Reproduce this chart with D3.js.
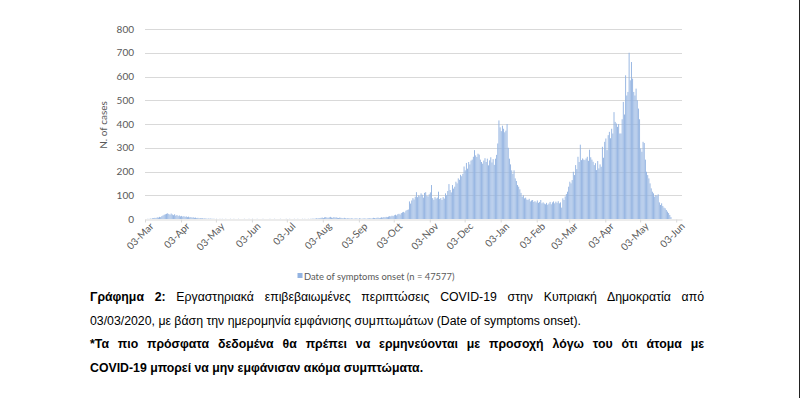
<!DOCTYPE html>
<html>
<head>
<meta charset="utf-8">
<script src="https://cdn.jsdelivr.net/npm/d3@7"></script>
<style>
  html, body { margin: 0; padding: 0; background: #fff; }
  svg { display: block; }
</style>
</head>
<body>
<script>
// Daily cases by date of symptom onset, starting 03-Mar-2020
const mar20 = [0,0,1,0,2,1,3,4, 5,4,7,6,9,8,12,15,18,20, 22,24,21,18,23,19,16,20,14,17,12];
const apr20 = [15,11,13,10,12,9,11,8,10,7, 8,6,7,5,6,4,5,3,4,3, 3,2,3,2,1,2,1,2,1,1];
const may20 = [1,0,1,0,0,1,0,1,0,0, 1,0,0,0,1,0,0,1,0,0, 0,1,0,0,0,0,1,0,0,0,1];
const jun20 = [0,0,1,0,0,0,1,0,0,0, 0,1,0,0,0,0,0,1,0,0, 0,1,0,0,0,0,1,0,0,0];
const jul20 = [0,1,0,0,1,0,0,0,1,0, 0,1,0,0,0,1,0,1,0,0, 1,0,1,1,2,1,2,3,2,3,4];
const aug20 = [5,6,4,7,8,6,5,7,9,6, 5,8,6,7,5,4,6,5,4,3, 5,3,2,4,3,2,3,2,1,2,3];
const sep20 = [2,1,3,2,1,2,3,2,1,2, 3,4,2,3,5,4,3,5,6,4, 5,7,6,8,7,9,8,10,12,11];
const oct20 = [14,12,16,18,15,20,22,19,25,28, 30,27,35,38,40,74,65,78,88,82, 94,113,92,100,96,108,102,90,110,113,98];
const nov20 = [95,104,112,143,88,81,92,86,90,115, 84,88,80,92,86,108,100,118,147,122, 112,143,128,136,157,150,171,165,186,180];
const dec20 = [190,221,205,236,212,240,230,246,250,262, 290,268,261,275,271,250,240,233,246,256, 240,254,226,247,260,238,252,228,254,270,318];
const jan21 = [415,386,370,393,380,365,372,400,300,254, 230,205,190,205,171,160,143,136,125,110, 94,100,87,90,82,80,85,74,78,80,72];
const feb21 = [75,70,78,68,72,80,66,70,65,62, 68,60,65,72,62,70,74,66,73,68, 75,66,70,48,87,80,95,105];
const mar21 = [115,136,157,150,164,199,185,227,210,262, 240,313,248,255,250,248,255,262,245,292, 260,250,241,227,235,206,244,213,230,220,304];
const apr21 = [258,325,339,290,353,367,340,380,360,450, 409,402,388,400,360,360,420,493,440,605, 520,535,700,584,661,591,535,520,549,500];
const may21 = [465,420,297,283,325,320,250,199,185,171, 150,129,115,108,94,101,98,104,70,59, 66,55,48,45,38,31,25,17,8];

const yTicks = [0, 100, 200, 300, 400, 500, 600, 700, 800];
const legendLabel = 'Date of symptoms onset (n = 47577)';
const captionLines = [
  [{ t: 'Γράφημα 2:', b: true }, { t: ' Εργαστηριακά επιβεβαιωμένες περιπτώσεις COVID-19 στην Κυπριακή Δημοκρατία από', b: false }],
  [{ t: '03/03/2020, με βάση την ημερομηνία εμφάνισης συμπτωμάτων (Date of symptoms onset).', b: false }],
  [{ t: '*Τα πιο πρόσφατα δεδομένα θα πρέπει να ερμηνεύονται με προσοχή λόγω του ότι άτομα με', b: true }],
  [{ t: 'COVID-19 μπορεί να μην εμφάνισαν ακόμα συμπτώματα.', b: true }]
];

const startDate = new Date(2020, 2, 3);
const cases = [].concat(mar20, apr20, may20, jun20, jul20, aug20, sep20, oct20, nov20, dec20, jan21, feb21, mar21, apr21, may21);
const data = cases.map((v, i) => ({ date: d3.timeDay.offset(startDate, i), value: v }));
const tickDates = d3.range(16).map(i => new Date(2020, 2 + i, 3));

const W = 800, H = 398;
const plot = { left: 145, right: 682, top: 29, bottom: 219 };
const axisFont = 'Lato, "Open Sans", sans-serif';

const svg = d3.select('body').append('svg')
  .attr('width', W)
  .attr('height', H);

svg.append('rect').attr('width', W).attr('height', H).attr('fill', '#fff');

const x = d3.scaleTime()
  .domain([startDate, d3.timeDay.offset(startDate, 462)])
  .range([plot.left, plot.right]);

const y = d3.scaleLinear()
  .domain([0, 800])
  .range([plot.bottom, plot.top]);

const dayW = x(d3.timeDay.offset(startDate, 1)) - x(startDate);

// gridlines
svg.append('g')
  .selectAll('line')
  .data(yTicks.slice(1))
  .enter().append('line')
  .attr('x1', plot.left).attr('x2', plot.right)
  .attr('y1', d => Math.round(y(d)) + 0.5).attr('y2', d => Math.round(y(d)) + 0.5)
  .attr('stroke', '#d9d9d9');

// bars
svg.append('g')
  .selectAll('rect')
  .data(data)
  .enter().append('rect')
  .attr('x', d => x(d.date) + dayW * 0.1)
  .attr('width', dayW * 0.8)
  .attr('y', d => y(d.value))
  .attr('height', d => y(0) - y(d.value))
  .attr('fill', '#93b3e1');

// x axis
const xAxis = svg.append('g')
  .attr('transform', `translate(0,${Math.round(y(0)) + 0.5})`)
  .call(d3.axisBottom(x).tickValues(tickDates).tickFormat(d3.timeFormat('%d-%b')).tickSize(3).tickSizeOuter(0));
xAxis.select('.domain').attr('stroke', '#d9d9d9');
xAxis.selectAll('.tick line').attr('stroke', '#d9d9d9');
xAxis.selectAll('.tick text')
  .attr('fill', '#595959')
  .style('font-family', axisFont)
  .style('font-size', '10px')
  .attr('text-anchor', 'end')
  .attr('dx', '0.1em')
  .attr('dy', '0.45em')
  .attr('y', 7)
  .attr('transform', 'rotate(-45)');

// y axis
const yAxis = svg.append('g')
  .attr('transform', `translate(${plot.left - 11},0)`)
  .call(d3.axisLeft(y).tickValues(yTicks).tickSize(0));
yAxis.select('.domain').remove();
yAxis.selectAll('.tick text')
  .attr('x', 0)
  .attr('fill', '#595959')
  .style('font-family', axisFont)
  .style('font-size', '10px');

svg.append('text')
  .attr('transform', `translate(107,${(plot.top + plot.bottom) / 2 + 1}) rotate(-90)`)
  .attr('text-anchor', 'middle')
  .attr('fill', '#595959')
  .style('font-family', axisFont)
  .style('font-size', '10px')
  .text('N. of cases');

// legend
svg.append('rect')
  .attr('x', 297.5).attr('y', 273).attr('width', 5).attr('height', 5)
  .attr('fill', '#93b3e1');
svg.append('text')
  .attr('x', 304).attr('y', 279.5)
  .attr('fill', '#595959')
  .style('font-family', axisFont)
  .style('font-size', '9.4px')
  .text(legendLabel);

// caption
const capX = 90, capRight = 704;
const capY = [301, 324.5, 348, 371.5];
const justified = [true, false, true, false];
captionLines.forEach((parts, i) => {
  const t = svg.append('text')
    .attr('x', capX).attr('y', capY[i])
    .attr('fill', '#000')
    .style('font-family', '"Liberation Sans", Arial, sans-serif')
    .style('font-size', '12.3px');
  parts.forEach(p => {
    t.append('tspan').attr('font-weight', p.b ? 'bold' : 'normal').text(p.t);
  });
  if (justified[i]) {
    const natural = t.node().getComputedTextLength();
    const spaces = parts.map(p => p.t).join('').split(' ').length - 1;
    t.attr('word-spacing', (capRight - capX - natural) / spaces);
  }
});

// right border line
svg.append('line')
  .attr('x1', W - 0.5).attr('x2', W - 0.5)
  .attr('y1', 0).attr('y2', H)
  .attr('stroke', '#222');
</script>
</body>
</html>
